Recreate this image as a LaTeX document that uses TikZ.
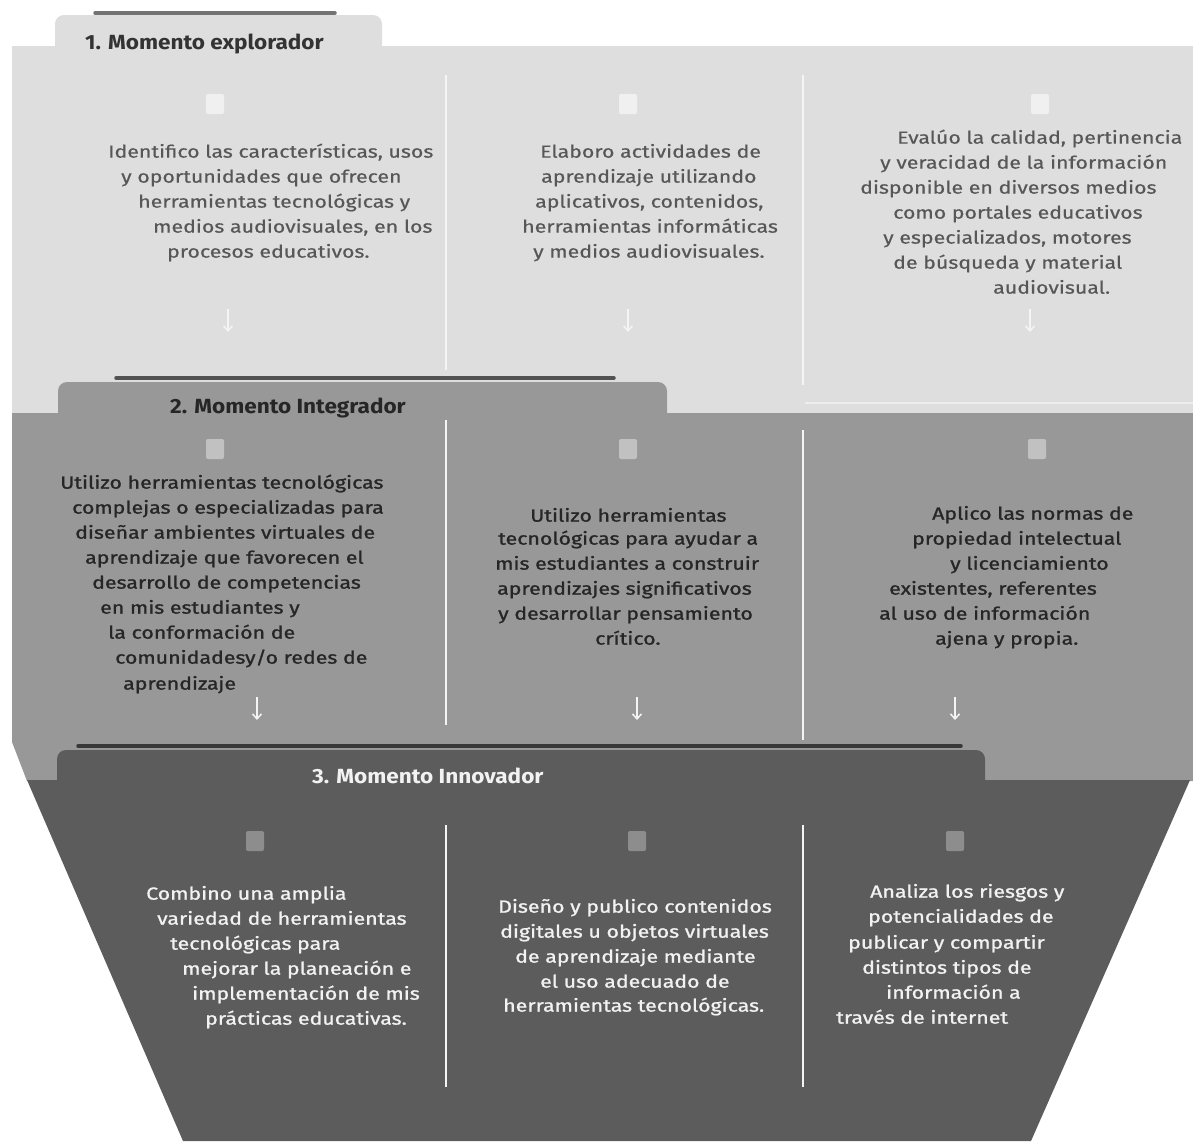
\documentclass[tikz,border=0pt]{standalone}
\usepackage{fontspec}
\setmainfont{Fira Sans}
\newfontfamily\bodyfont[FakeStretch=1.22,FakeBold=0.5]{Fira Sans}
\newfontfamily\bodyfontheavy[FakeStretch=1.22,FakeBold=1.2]{Fira Sans}
\newfontfamily\tabfont[FakeStretch=1.1]{Fira Sans}
\usetikzlibrary{arrows.meta}
\definecolor{paneA}{HTML}{DEDEDE}
\definecolor{paneB}{HTML}{989898}
\definecolor{paneC}{HTML}{5C5C5C}
\definecolor{inkA}{HTML}{575757}
\definecolor{inkB}{HTML}{262626}
\definecolor{inkC}{HTML}{F2F2F2}
\definecolor{rule}{HTML}{F4F4F4}
\tikzset{
  tline/.style={anchor=mid west, inner sep=0pt, yshift=-4pt},
  txtA/.style={tline, text=inkA, font=\bodyfont\fontsize{17.5}{20}\selectfont},
  txtB/.style={tline, text=inkB, font=\bodyfontheavy\fontsize{17.5}{20}\selectfont},
  txtC/.style={tline, text=inkC, font=\bodyfontheavy\fontsize{17.5}{20}\selectfont},
  tablabel/.style={anchor=mid west, inner sep=0pt, yshift=-4pt, font=\tabfont\fontsize{20.5}{24}\selectfont\bfseries},
  divider/.style={draw=rule, line width=1.5pt},
  marker/.style={rounded corners=2pt, minimum width=18pt, minimum height=20pt, inner sep=0pt},
  downarrow/.style={draw=rule, line width=1.5pt, -{Straight Barb[length=5pt,width=9pt]}},
  tabshade/.style={line width=3.5pt, line cap=round}
}
\begin{document}
\begin{tikzpicture}[x=1pt,y=-1pt]
\useasboundingbox (0,0) rectangle (1193,1141);
\fill[white] (0,0) rectangle (1193,1141);

% ---------- stage 1 ----------
\draw[tabshade, draw=black!55] (95,13) -- (335,13);
\fill[paneA] (12,46) rectangle (1193,413);
\fill[paneA, rounded corners=9pt] (55,70) -- (55,15) -- (382,15) -- (382,70) -- cycle;
\draw[white!45!paneA, line width=1.2pt] (805,403) -- (1193,403);
\node[tablabel, text=black!80] (t1) at (85,43) {1. Momento explorador};

\draw[divider] (446,75) -- (446,370);
\draw[divider] (803,75) -- (803,385);

\node[marker, fill=white!55!paneA] (m11) at (215,104) {};
\node[marker, fill=white!55!paneA] (m12) at (628,104) {};
\node[marker, fill=white!55!paneA] (m13) at (1040,104) {};

\node[txtA] (a11) at (108,151) {Identifico las características, usos};
\node[txtA] (a12) at (121,176) {y oportunidades que ofrecen};
\node[txtA] (a13) at (138,201) {herramientas tecnológicas y};
\node[txtA] (a14) at (153,226) {medios audiovisuales, en los};
\node[txtA] (a15) at (167,251) {procesos educativos.};

\node[txtA] (a21) at (540,151) {Elaboro actividades de};
\node[txtA] (a22) at (541,176) {aprendizaje utilizando};
\node[txtA] (a23) at (535,201) {aplicativos, contenidos,};
\node[txtA] (a24) at (522,226) {herramientas informáticas};
\node[txtA] (a25) at (533,251) {y medios audiovisuales.};

\node[txtA] (a31) at (897,137) {Evalúo la calidad, pertinencia};
\node[txtA] (a32) at (880,162) {y veracidad de la información};
\node[txtA] (a33) at (860,187) {disponible en diversos medios};
\node[txtA] (a34) at (893,212) {como portales educativos};
\node[txtA] (a35) at (883,237) {y especializados, motores};
\node[txtA] (a36) at (893,262) {de búsqueda y material};
\node[txtA] (a37) at (993,287) {audiovisual.};

\coordinate (p11) at (228,309); \coordinate (q11) at (228,332);
\coordinate (p12) at (628,309); \coordinate (q12) at (628,332);
\coordinate (p13) at (1030,309); \coordinate (q13) at (1030,332);
\draw[downarrow] (p11) -- (q11);
\draw[downarrow] (p12) -- (q12);
\draw[downarrow] (p13) -- (q13);

% ---------- stage 2 ----------
\draw[tabshade, draw=black!68] (116,378) -- (614,378);
\fill[paneB] (12,413) -- (1193,413) -- (1193,781) -- (27,781) -- (12,742) -- cycle;
\fill[paneB, rounded corners=9pt] (58,440) -- (58,382) -- (667,382) -- (667,440) -- cycle;
\node[tablabel, text=black!85] (t2) at (170,407) {2. Momento Integrador};

\draw[divider] (446,420) -- (446,725);
\draw[divider] (803,430) -- (803,740);

\node[marker, fill=white!40!paneB] (m21) at (215,449) {};
\node[marker, fill=white!40!paneB] (m22) at (628,449) {};
\node[marker, fill=white!40!paneB] (m23) at (1037,449) {};

\node[txtB] (b11) at (60,482) {Utilizo herramientas tecnológicas};
\node[txtB] (b12) at (72,507) {complejas o especializadas para};
\node[txtB] (b13) at (75,532) {diseñar ambientes virtuales de};
\node[txtB] (b14) at (85,557) {aprendizaje que favorecen el};
\node[txtB] (b15) at (92,582) {desarrollo de competencias};
\node[txtB] (b16) at (100,607) {en mis estudiantes y};
\node[txtB] (b17) at (108,632) {la conformación de};
\node[txtB] (b18) at (115,657) {comunidadesy/o redes de};
\node[txtB] (b19) at (123,683) {aprendizaje};

\node[txtB] (b21) at (530,515) {Utilizo herramientas};
\node[txtB] (b22) at (498,538) {tecnológicas para ayudar a};
\node[txtB] (b23) at (495,563) {mis estudiantes a construir};
\node[txtB] (b24) at (497,588) {aprendizajes significativos};
\node[txtB] (b25) at (498,613) {y desarrollar pensamiento};
\node[txtB] (b26) at (595,638) {crítico.};

\node[txtB] (b31) at (932,513) {Aplico las normas de};
\node[txtB] (b32) at (912,538) {propiedad intelectual};
\node[txtB] (b33) at (950,563) {y licenciamiento};
\node[txtB] (b34) at (889,588) {existentes, referentes};
\node[txtB] (b35) at (879,613) {al uso de información};
\node[txtB] (b36) at (935,638) {ajena y propia.};

\coordinate (p21) at (257,697); \coordinate (q21) at (257,720);
\coordinate (p22) at (637,697); \coordinate (q22) at (637,720);
\coordinate (p23) at (955,697); \coordinate (q23) at (955,720);
\draw[downarrow] (p21) -- (q21);
\draw[downarrow] (p22) -- (q22);
\draw[downarrow] (p23) -- (q23);

% ---------- stage 3 ----------
\draw[tabshade, draw=black!78] (78,746) -- (961,746);
\fill[paneC] (27,780) -- (1190,780) -- (1031,1141) -- (183,1141) -- cycle;
\fill[paneC, rounded corners=9pt] (57,810) -- (57,750) -- (985,750) -- (985,810) -- cycle;
\node[tablabel, text=inkC] (t3) at (312,777) {3. Momento Innovador};

\draw[divider] (446,825) -- (446,1087);
\draw[divider] (803,825) -- (803,1087);

\node[marker, fill=white!30!paneC] (m31) at (255,841) {};
\node[marker, fill=white!30!paneC] (m32) at (637,841) {};
\node[marker, fill=white!30!paneC] (m33) at (955,841) {};

\node[txtC] (c11) at (146,893) {Combino una amplia};
\node[txtC] (c12) at (157,918) {variedad de herramientas};
\node[txtC] (c13) at (170,943) {tecnológicas para};
\node[txtC] (c14) at (182,968) {mejorar la planeación e};
\node[txtC] (c15) at (192,993) {implementación de mis};
\node[txtC] (c16) at (205,1018) {prácticas educativas.};

\node[txtC] (c21) at (498,906) {Diseño y publico contenidos};
\node[txtC] (c22) at (500,931) {digitales u objetos virtuales};
\node[txtC] (c23) at (515,956) {de aprendizaje mediante};
\node[txtC] (c24) at (540,981) {el uso adecuado de};
\node[txtC] (c25) at (503,1005) {herramientas tecnológicas.};

\node[txtC] (c31) at (870,891) {Analiza los riesgos y};
\node[txtC] (c32) at (868,916) {potencialidades de};
\node[txtC] (c33) at (848,942) {publicar y compartir};
\node[txtC] (c34) at (862,967) {distintos tipos de};
\node[txtC] (c35) at (886,992) {información a};
\node[txtC] (c36) at (836,1017) {través de internet};
\end{tikzpicture}
\end{document}
